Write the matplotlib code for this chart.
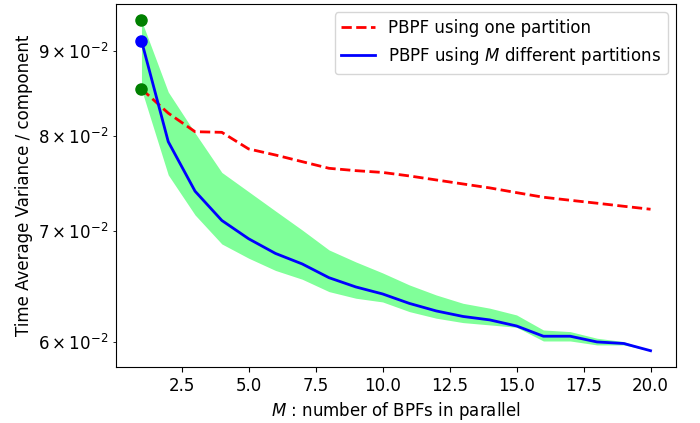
import matplotlib
matplotlib.use("Agg")
import matplotlib.pyplot as plt
import numpy as np

M = list(range(1, 21))

one_partition = [0.08537, 0.08254, 0.08043, 0.08036, 0.07852, 0.07786, 0.07714,
                 0.07643, 0.07618, 0.07599, 0.07562, 0.07520, 0.07478, 0.07437,
                 0.07388, 0.07341, 0.07310, 0.07280, 0.07249, 0.07219]

m_partitions = [0.09131, 0.07932, 0.07403, 0.07107, 0.06928, 0.06788, 0.06689,
                0.06562, 0.06478, 0.06415, 0.06331, 0.06265, 0.06217, 0.06187,
                0.06135, 0.06048, 0.06048, 0.06000, 0.05987, 0.05927]

band_upper = [0.09393, 0.08501, 0.08029, 0.07599, 0.07398, 0.07202, 0.07013,
              0.06821, 0.06708, 0.06606, 0.06496, 0.06406, 0.06332, 0.06289,
              0.06230, 0.06101, 0.06087, 0.06031, 0.06003, 0.05927]

band_lower = [0.08533, 0.07573, 0.07162, 0.06878, 0.06743, 0.06629, 0.06548,
              0.06436, 0.06377, 0.06344, 0.06259, 0.06202, 0.06164, 0.06144,
              0.06124, 0.06008, 0.06008, 0.05975, 0.05975, 0.05927]

plt.rcParams["font.size"] = 12

fig = plt.figure(figsize=(7.0, 4.23), dpi=100)
ax = fig.add_axes([116/700, 56/423, 560/700, 363/423])

ax.fill_between(M, band_lower, band_upper, color="#80ff99", linewidth=0)
ax.plot(M, one_partition, "r--", linewidth=2, label="PBPF using one partition")
ax.plot(M, m_partitions, "b-", linewidth=2, label="PBPF using $M$ different partitions")
ax.plot([M[0]], [band_upper[0]], "o", color="green", markersize=8)
ax.plot([M[0]], [band_lower[0]], "o", color="green", markersize=8)
ax.plot([M[0]], [m_partitions[0]], "o", color="blue", markersize=8)

ax.set_yscale("log")
ax.set_xlim(0.05, 20.95)
ax.set_ylim(0.05794, 0.0961)
ax.set_xlabel("$M$ : number of BPFs in parallel")
ax.set_ylabel("Time Average Variance / component")
ax.legend(loc="upper right")

fig.savefig("out.png", dpi=100)
